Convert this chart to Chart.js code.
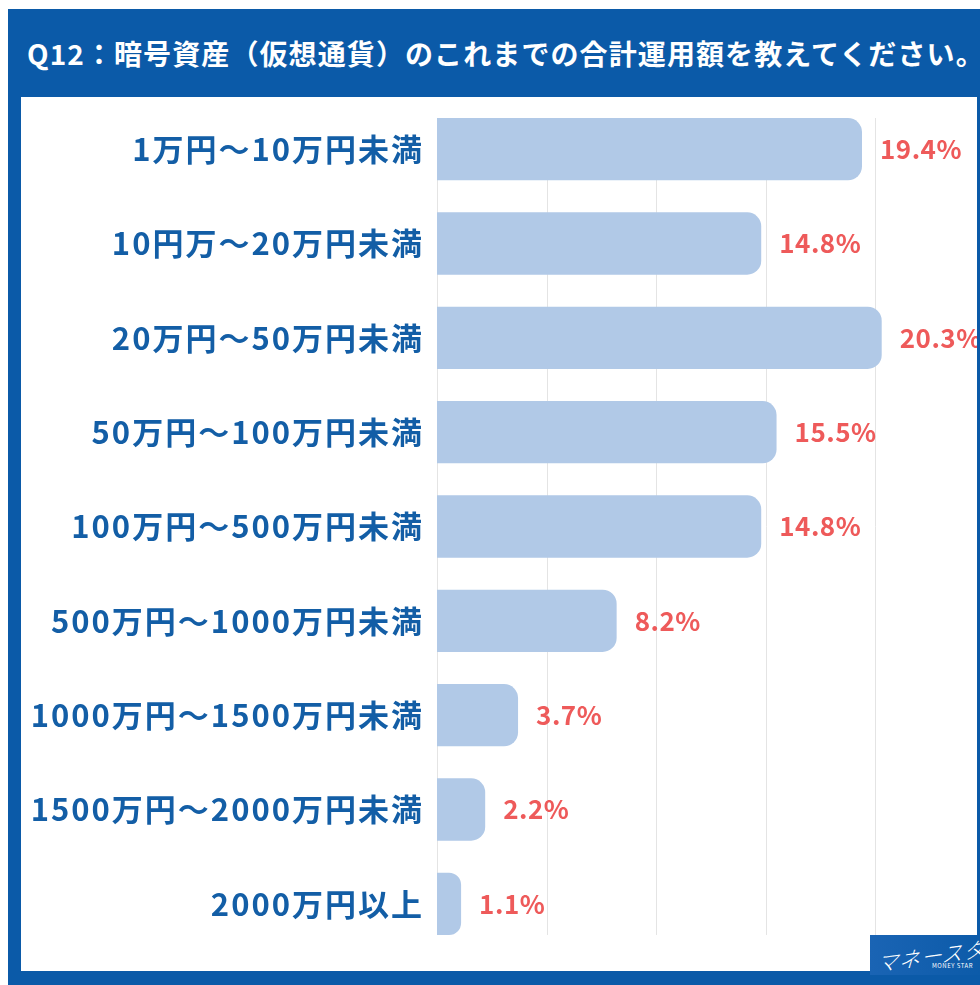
<!DOCTYPE html>
<html>
<head>
<meta charset="utf-8">
<script src="https://cdn.jsdelivr.net/npm/chart.js@4"></script>
<style>
  html, body { margin: 0; padding: 0; background: #fff; }
  body { width: 980px; height: 985px; position: relative; overflow: hidden; font-family: "Noto Sans CJK JP", sans-serif; }
  #frame { position: absolute; left: 8px; top: 9px; width: 980px; height: 980px; background: #0b5aa8; }
  #title { position: absolute; left: 27px; top: 9px; height: 88px; line-height: 88px; color: #fff; font-size: 28px; font-weight: 700; white-space: nowrap; letter-spacing: 1.1px; }
  #panel { position: absolute; left: 21px; top: 97px; width: 956px; height: 874px; background: #fff; }
  #logo { position: absolute; left: 870px; top: 935px; width: 120px; height: 40px; background: linear-gradient(90deg, #1a64b4, #0b5aa8); color: #fff; overflow: hidden; }
  #logo .jp { position: absolute; left: 6px; top: 5px; font-size: 21px; font-style: italic; font-weight: 300; transform: rotate(-8deg) skewX(-12deg); letter-spacing: 1px; }
  #logo .en { position: absolute; left: 62px; top: 26px; font-size: 6px; letter-spacing: 0.5px; }
</style>
</head>
<body>
<div id="frame"></div>
<div id="title">Q12：暗号資産（仮想通貨）のこれまでの合計運用額を教えてください。</div>
<div id="panel"><canvas id="myChart" width="956" height="874"></canvas></div>
<div id="logo"><span class="jp">マネースター</span><span class="en">MONEY STAR</span></div>
<script>
const categories = ['1万円～10万円未満', '10円万～20万円未満', '20万円～50万円未満', '50万円～100万円未満',
    '100万円～500万円未満', '500万円～1000万円未満', '1000万円～1500万円未満', '1500万円～2000万円未満', '2000万円以上'];
const values = [19.4, 14.8, 20.3, 15.5, 14.8, 8.2, 3.7, 2.2, 1.1];
const gridSteps = [0, 5, 10, 15, 20];

// wider letters for the axis labels, as in the picture
const spacing = {
    id: 'spacing',
    beforeDraw(chart) { chart.ctx.letterSpacing = '2px'; },
    afterDraw(chart) { chart.ctx.letterSpacing = '0px'; }
};

// vertical guide lines, only between first bar top and last bar bottom
const gridPlugin = {
    id: 'gridLines',
    beforeDatasetsDraw(chart) {
        const ctx = chart.ctx;
        const bars = chart.getDatasetMeta(0).data;
        const top = bars[0].y - bars[0].height / 2;
        const bottom = bars[bars.length - 1].y + bars[bars.length - 1].height / 2;
        ctx.save();
        ctx.strokeStyle = '#e4e4e4';
        ctx.lineWidth = 1;
        gridSteps.forEach(v => {
            const x = Math.round(chart.scales.x.getPixelForValue(v)) + 0.5;
            ctx.beginPath();
            ctx.moveTo(x, top);
            ctx.lineTo(x, bottom);
            ctx.stroke();
        });
        ctx.restore();
    }
};

const valueLabels = {
    id: 'valueLabels',
    afterDatasetsDraw(chart) {
        const ctx = chart.ctx;
        ctx.save();
        ctx.letterSpacing = '0.5px';
        ctx.fillStyle = '#ee5a5a';
        ctx.font = 'bold 26px "Noto Sans CJK JP"';
        ctx.textBaseline = 'middle';
        chart.getDatasetMeta(0).data.forEach((bar, i) => {
            ctx.fillText(values[i].toFixed(1) + '%', bar.x + 18, bar.y);
        });
        ctx.restore();
    }
};

const ctx = document.getElementById('myChart').getContext('2d');
new Chart(ctx, {
    type: 'bar',
    data: {
        labels: categories,
        datasets: [{
            data: values,
            backgroundColor: '#b1c9e7',
            borderRadius: 14,
            borderSkipped: 'start',
            barPercentage: 0.66,
            categoryPercentage: 1
        }]
    },
    options: {
        indexAxis: 'y',
        responsive: false,
        animation: false,
        layout: { padding: { top: 5, bottom: 20, left: 0, right: 0 } },
        plugins: { legend: { display: false }, tooltip: { enabled: false } },
        scales: {
            x: { display: false, min: 0, max: 24.65 },
            y: {
                grid: { display: false, drawTicks: false },
                border: { display: false },
                ticks: {
                    color: '#135ea6',
                    padding: 13,
                    font: { family: '"Noto Sans CJK JP"', size: 31, weight: 'bold' }
                },
                afterFit(scale) {
                    scale.width = 416;
                    scale.paddingTop = 0;
                    scale.paddingBottom = 0;
                }
            }
        }
    },
    plugins: [spacing, gridPlugin, valueLabels]
});
</script>
</body>
</html>
